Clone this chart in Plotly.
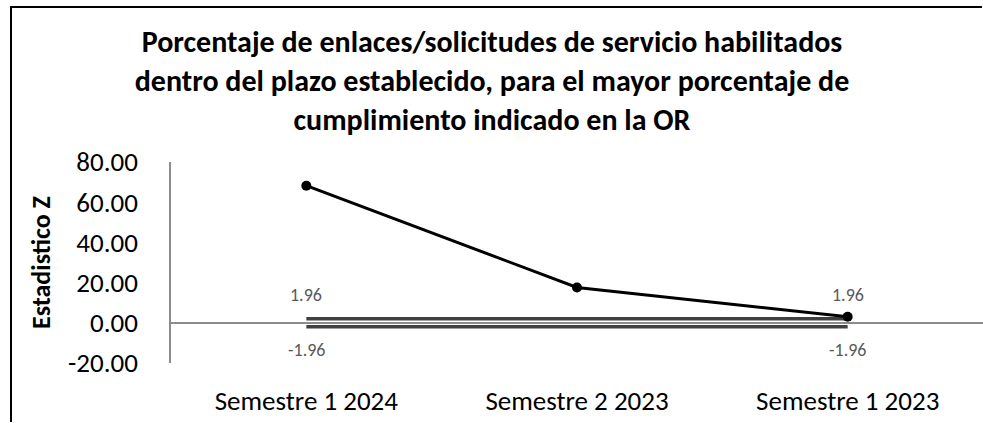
import plotly.graph_objects as go

# Data
categories = ["Semestre 1 2024", "Semestre 2 2023", "Semestre 1 2023"]
z_values = [68.2, 17.6, 3.0]
upper_limit = [1.96, 1.96, 1.96]
lower_limit = [-1.96, -1.96, -1.96]
y_ticks = [80, 60, 40, 20, 0, -20]

W, H = 983, 423
FONT = "Carlito, Calibri, Lato, sans-serif"
limit_color = "#404040"

fig = go.Figure()

# Critical value bands at +/-1.96
fig.add_trace(go.Scatter(
    x=categories, y=upper_limit, mode="lines",
    line=dict(color=limit_color, width=3.5), hoverinfo="skip", showlegend=False,
))
fig.add_trace(go.Scatter(
    x=categories, y=lower_limit, mode="lines",
    line=dict(color=limit_color, width=3.5), hoverinfo="skip", showlegend=False,
))

# Z statistic series
fig.add_trace(go.Scatter(
    x=categories, y=z_values, mode="lines+markers",
    line=dict(color="black", width=3),
    marker=dict(color="black", size=10),
    showlegend=False,
))

# Limit labels at the first and last category
for idx in (0, len(categories) - 1):
    fig.add_annotation(x=categories[idx], y=upper_limit[idx], text=f"{upper_limit[idx]:.2f}",
                       showarrow=False, yshift=11, yanchor="bottom",
                       font=dict(family=FONT, size=18, color="#595959"))
    fig.add_annotation(x=categories[idx], y=lower_limit[idx], text=f"{lower_limit[idx]:.2f}",
                       showarrow=False, yshift=-10, yanchor="top",
                       font=dict(family=FONT, size=18, color="#595959"))

m_l, m_r, m_t, m_b = 171, 0, 162, 60
pw, ph = W - m_l - m_r, H - m_t - m_b


def px_x(px):
    return (px - m_l) / pw


def px_y(py):
    return (H - m_b - py) / ph


# Chart frame: an open path along the top and left edges
frame_path = (f"M {px_x(W - 1):.5f},{px_y(7):.5f} "
              f"L {px_x(11):.5f},{px_y(7):.5f} "
              f"L {px_x(11):.5f},{px_y(H - 1):.5f}")
shapes = [dict(type="path", xref="paper", yref="paper", path=frame_path,
               line=dict(color="black", width=2), layer="below")]

fig.update_layout(
    width=W, height=H,
    margin=dict(l=m_l, r=m_r, t=m_t, b=m_b),
    paper_bgcolor="white", plot_bgcolor="white",
    font=dict(family=FONT, color="black"),
    title=dict(
        text="<b>Porcentaje de enlaces/solicitudes de servicio habilitados<br>"
             "dentro del plazo establecido, para el mayor porcentaje de<br>"
             "cumplimiento indicado en la OR</b>",
        x=492 / W, xanchor="center", y=1 - 52 / H, yanchor="top",
        font=dict(family=FONT, size=30, color="black"),
    ),
    xaxis=dict(
        type="category", range=[-0.5, 2.5],
        showgrid=False, showline=False, zeroline=False, ticks="",
        tickfont=dict(family=FONT, size=27, color="black"),
        ticklabelstandoff=19,
    ),
    yaxis=dict(
        range=[-20, 80], tickvals=y_ticks, ticktext=[f"{v:.2f}" for v in y_ticks],
        showgrid=False, zeroline=True, zerolinecolor="#8c8c8c", zerolinewidth=1.5,
        showline=True, linecolor="#8c8c8c", linewidth=1.5, ticks="",
        tickfont=dict(family=FONT, size=27, color="black"),
        ticklabelstandoff=26,
        title=dict(text="<b>Estadistico Z</b>", standoff=10,
                   font=dict(family=FONT, size=26, color="black")),
    ),
    shapes=shapes,
)

fig.write_html("out.html", config={"displayModeBar": False})
